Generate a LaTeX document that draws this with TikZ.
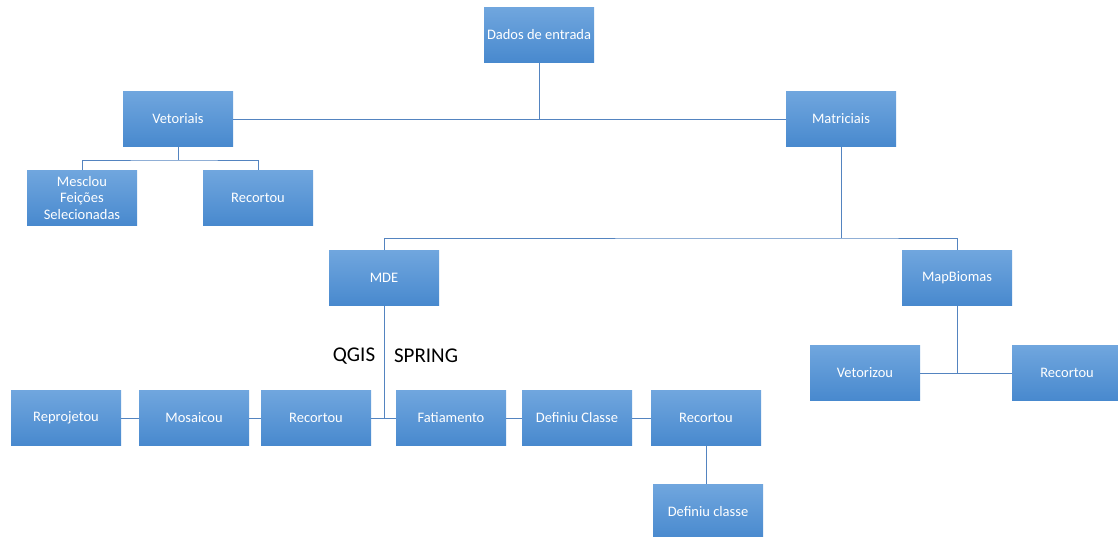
\documentclass[tikz,border=0pt]{standalone}
\usepackage{fontspec}
\setmainfont{Carlito}
\definecolor{boxtop}{RGB}{112,166,222}
\definecolor{boxbot}{RGB}{72,137,206}
\definecolor{linkblue}{RGB}{84,132,192}
\tikzset{
  box/.style={top color=boxtop,bottom color=boxbot,draw=none,
    minimum width=110pt,minimum height=55pt,inner sep=1pt,
    text=white,align=center,font=\fontsize{14.5}{16.5}\selectfont},
  link/.style={draw=linkblue,line width=0.9pt},
  tool/.style={text=black,font=\fontsize{21}{25}\selectfont}
}
\begin{document}
\begin{tikzpicture}[x=1pt,y=-1pt]
   \useasboundingbox (0,0) rectangle (1118,537);
   % first levels
   \node[box] (dados) at (539,35)  {Dados de entrada};
   \node[box] (vet)   at (178,119) {Vetoriais};
   \node[box] (mat)   at (841,119) {Matriciais};
   \node[box] (mesc)  at (82,198)  {Mesclou\\Feições\\Selecionadas};
   \node[box] (recv)  at (258,198) {Recortou};
   \node[box] (mde)   at (384,278) {MDE};
   \node[box] (mapb)  at (957,278) {MapBiomas};
   \node[box] (vetz)  at (865,373) {Vetorizou};
   \node[box] (recm)  at (1067,373) {Recortou};
   % MDE processing
   \node[box] (repr)  at (66,418)  {Reprojetou};
   \node[box] (mosa)  at (194,418) {Mosaicou};
   \node[box] (recq)  at (316,418) {Recortou};
   \node[box] (fati)  at (451,418) {Fatiamento};
   \node[box] (defc)  at (577,418) {Definiu Classe};
   \node[box] (recs)  at (706,418) {Recortou};
   \node[box] (defl)  at (708,512) {Definiu classe};
   \node[tool] (qgis)   at (354,356) {QGIS};
   \node[tool] (spring) at (426,356) {SPRING};
   % joints
   \coordinate (vj) at (178,160);
   \coordinate (mj) at (841,238);
   \coordinate (dj) at (384,418);
   % connectors
   \draw[link] (dados.south) -- (dados.south |- vet.east);
   \draw[link] (vet.east) -- (mat.west);
   \draw[link] (vet.south) -- (vj);
   \draw[link] (mesc.north) |- (vj) -| (recv.north);
   \draw[link] (mat.south) -- (mj);
   \draw[link] (mde.north) |- (mj) -| (mapb.north);
   \draw[link] (mapb.south) |- (vetz.east);
   \draw[link] (vetz.east) -- (recm.west);
   \draw[link] (mde.south) -- (dj);
   \draw[link] (recq.east) -- (fati.west);
   \draw[link] (repr) -- (mosa);
   \draw[link] (mosa) -- (recq);
   \draw[link] (fati) -- (defc);
   \draw[link] (defc) -- (recs);
   \draw[link] (recs) -- (recs |- defl.north);
\end{tikzpicture}
\end{document}
